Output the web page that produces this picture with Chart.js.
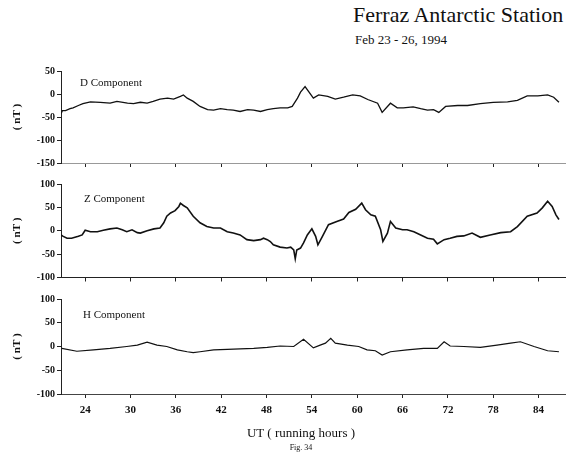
<!DOCTYPE html>
<html>
<head>
<meta charset="utf-8">
<script src="https://cdn.jsdelivr.net/npm/chart.js@4/dist/chart.umd.min.js"></script>
<style>
  body { margin: 0; background: #fff; }
  #page { position: relative; width: 573px; height: 453px; overflow: hidden; font-family: 'Liberation Serif', 'DejaVu Serif', serif; color: #111; }
  canvas { position: absolute; left: 0; }
  .txt { position: absolute; white-space: nowrap; line-height: 1; }
</style>
</head>
<body>
<div id="page">
  <div class="txt" style="left:353px; top:4px; font-size:22px;">Ferraz Antarctic Station</div>
  <div class="txt" style="left:355px; top:33px; font-size:13px;">Feb 23 - 26, 1994</div>
  <canvas id="dChart" width="573" height="110" style="top:61px"></canvas>
  <canvas id="zChart" width="573" height="112" style="top:174px"></canvas>
  <canvas id="hChart" width="573" height="164" style="top:289px"></canvas>
  <div class="txt" style="left:301px; top:426px; font-size:13px; transform:translateX(-50%);">UT ( running hours )</div>
  <div class="txt" style="left:301px; top:444px; font-size:8px; transform:translateX(-50%);">Fig. 34</div>
</div>
<script>
// UT running hours, shared x range
const xMin = 20.8;
const xMax = 87.5;
const xTicks = [24, 30, 36, 42, 48, 54, 60, 66, 72, 78, 84];

// D component (nT)
const dHours = [20.8, 21.0, 21.4, 22.0, 22.4, 23.1, 23.7, 24.7, 26.0, 27.3, 28.2, 29.6, 30.4, 31.3, 32.2, 33.0, 33.9, 34.9, 35.7, 36.6, 37.0, 37.5, 38.3, 39.2, 40.2, 41.0, 41.9, 42.8, 43.6, 44.5, 45.5, 46.3, 47.2, 48.1, 48.9, 49.8, 50.8, 51.4, 52.1, 52.5, 53.1, 54.2, 54.9, 56.1, 57.1, 58.2, 59.4, 60.4, 61.4, 62.7, 63.3, 64.4, 65.3, 66.1, 67.4, 68.4, 69.3, 70.1, 70.8, 71.7, 73.3, 74.6, 76.3, 78.0, 79.9, 81.2, 82.5, 83.9, 85.2, 86.0, 86.7];
const dValues = [-43, -36, -36, -32, -30, -25, -21, -17, -18, -20, -16, -20, -21, -18, -20, -16, -11, -9, -11, -5, -2, -9, -16, -27, -34, -35, -32, -34, -35, -38, -34, -35, -38, -34, -32, -30, -30, -27, -9, 4, 16, -9, -2, -5, -11, -7, -2, -4, -12, -20, -40, -20, -30, -30, -28, -32, -35, -34, -40, -27, -25, -25, -21, -18, -17, -14, -4, -4, -2, -7, -18];

// Z component (nT)
const zHours = [20.8, 21.1, 21.6, 22.2, 23.1, 23.6, 24.0, 24.7, 25.6, 26.4, 27.3, 28.2, 28.9, 29.5, 30.2, 30.9, 31.3, 32.2, 33.1, 33.9, 34.4, 34.8, 35.3, 35.9, 36.4, 36.6, 37.0, 37.5, 38.3, 39.2, 40.1, 41.0, 41.9, 42.8, 43.6, 44.5, 45.4, 46.3, 47.2, 47.6, 48.1, 48.5, 48.9, 49.8, 50.7, 51.2, 51.6, 51.8, 52.0, 52.5, 52.9, 53.4, 54.0, 54.5, 54.8, 55.4, 56.2, 57.3, 58.2, 58.9, 59.8, 60.6, 61.1, 61.8, 62.4, 63.1, 63.4, 64.0, 64.4, 65.1, 66.0, 66.6, 67.5, 68.4, 69.3, 70.1, 70.6, 71.5, 72.3, 73.2, 74.1, 75.2, 76.3, 77.6, 79.0, 80.3, 81.2, 82.5, 83.8, 84.5, 85.2, 85.8, 86.3, 86.7];
const zValues = [-9, -12, -16, -16, -12, -9, 1, -2, -2, 1, 4, 6, 2, -2, 2, -4, -5, 0, 4, 6, 17, 31, 38, 43, 52, 59, 54, 49, 31, 17, 9, 6, 6, -2, -5, -9, -19, -21, -19, -16, -19, -23, -30, -35, -37, -35, -41, -60, -41, -37, -26, -9, 4, -12, -30, -12, 13, 20, 25, 39, 46, 59, 45, 34, 31, 2, -23, -5, 20, 6, 2, 2, -2, -9, -16, -18, -28, -19, -16, -12, -11, -5, -14, -9, -4, -2, 9, 31, 38, 49, 63, 52, 34, 24];

// H component (nT)
const hHours = [20.9, 22.9, 25.1, 27.3, 29.5, 30.9, 32.2, 33.5, 34.8, 36.2, 37.5, 38.3, 39.2, 41.0, 42.8, 44.5, 46.3, 48.1, 49.8, 51.6, 52.9, 54.2, 55.1, 55.8, 56.5, 57.1, 58.7, 60.2, 61.3, 62.4, 63.3, 64.4, 66.6, 68.8, 70.6, 71.5, 72.3, 74.1, 76.3, 78.5, 80.3, 81.6, 83.4, 85.2, 86.7];
const hValues = [-4, -10, -7, -4, 0, 3, 9, 3, 0, -7, -11, -13, -11, -7, -6, -5, -4, -2, 1, 0, 15, -3, 3, 7, 17, 7, 3, 0, -7, -9, -18, -11, -7, -4, -4, 10, 1, 0, -2, 3, 7, 10, 0, -9, -11];

const serif = "'Liberation Serif', 'DejaVu Serif', serif";

// writes the component name inside the plot area
const panelLabel = {
  id: 'panelLabel',
  afterDraw(chart, args, opts) {
    const { ctx, chartArea } = chart;
    ctx.save();
    ctx.font = '11px ' + serif;
    ctx.fillStyle = '#111';
    ctx.textBaseline = 'middle';
    ctx.fillText(opts.text, chartArea.left + opts.dx, chartArea.top + opts.dy);
    ctx.restore();
  },
};

function makePanel(id, hours, values, cfg) {
  const ctx = document.getElementById(id).getContext('2d');
  return new Chart(ctx, {
    type: 'line',
    data: {
      datasets: [
        {
          data: hours.map((h, i) => ({ x: h, y: values[i] })),
          borderColor: '#111',
          borderWidth: cfg.lineWidth,
          pointRadius: 0,
          tension: 0,
        },
      ],
    },
    options: {
      responsive: false,
      animation: false,
      layout: { padding: { top: 10, right: 8, left: 0, bottom: 0 } },
      plugins: {
        legend: { display: false },
        tooltip: { enabled: false },
        panelLabel: { text: cfg.label, dx: cfg.dx, dy: cfg.dy },
      },
      scales: {
        x: {
          type: 'linear',
          min: xMin,
          max: xMax,
          afterBuildTicks: (scale) => {
            scale.ticks = xTicks.map((v) => ({ value: v }));
          },
          afterFit: (scale) => {
            scale.height = cfg.xHeight;
          },
          grid: { drawOnChartArea: false, tickLength: 4, color: '#222' },
          border: { color: cfg.xColor, dash: [3, 3], width: 1 },
          ticks: {
            display: cfg.showX,
            padding: 6,
            maxRotation: 0,
            color: '#111',
            font: { family: serif, size: 11, weight: 'bold' },
          },
        },
        y: {
          min: cfg.yMin,
          max: cfg.yMax,
          afterFit: (scale) => {
            scale.width = 61;
          },
          ticks: {
            stepSize: 50,
            padding: 2,
            color: '#111',
            font: { family: serif, size: 10, weight: 'bold' },
          },
          grid: { drawOnChartArea: false, tickLength: 4, color: '#222' },
          border: { color: '#222', dash: [2, 2], width: 1 },
          title: {
            display: true,
            text: '( nT )',
            color: '#111',
            padding: { top: 11, bottom: 0 },
            font: { family: serif, size: 11, weight: 'bold' },
          },
        },
      },
    },
    plugins: [panelLabel],
  });
}

makePanel('dChart', dHours, dValues, { label: 'D Component', dx: 19, dy: 12, yMin: -150, yMax: 50, xHeight: 7, showX: false, xColor: '#999', lineWidth: 1.3 });
makePanel('zChart', zHours, zValues, { label: 'Z Component', dx: 23, dy: 15, yMin: -100, yMax: 100, xHeight: 8.5, showX: false, xColor: '#222', lineWidth: 1.6 });
makePanel('hChart', hHours, hValues, { label: 'H Component', dx: 22, dy: 16, yMin: -100, yMax: 100, xHeight: 59, showX: true, xColor: '#444', lineWidth: 1.2 });
</script>
</body>
</html>
